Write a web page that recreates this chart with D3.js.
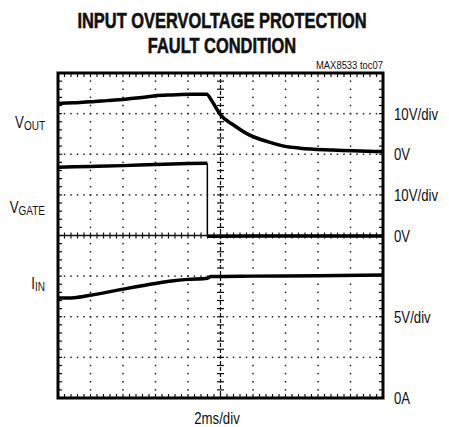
<!DOCTYPE html>
<html>
<head>
<meta charset="utf-8">
<script src="https://cdn.jsdelivr.net/npm/d3@7"></script>
<style>
  html, body { margin: 0; padding: 0; background: #fff; }
  svg { display: block; }
  text { font-family: "Liberation Sans", Arial, Helvetica, sans-serif; fill: #111; }
</style>
</head>
<body>
<script>
// ---- data ----
const titleLines = ["INPUT OVERVOLTAGE PROTECTION", "FAULT CONDITION"];
const noteText = "MAX8533 toc07";
const xLabel = "2ms/div";
const timeDomain = [0, 20]; // ms, 2ms/div, 10 divisions

// V_OUT (10V/div, 0V at division 6)
const voutTime = [0, 1, 2, 3, 4, 5, 6, 7, 8.1, 9.15, 9.5, 10, 10.8, 11.8, 12.9, 13.9, 14.9, 16.9, 20];
const voutVal  = [12.5, 12.7, 12.9, 13.2, 13.5, 13.9, 14.4, 14.6, 14.75, 14.8, 12.9, 9.7, 7.2, 4.7, 3.1, 2.0, 1.5, 1.05, 0.65];

// V_GATE (10V/div, 0V at division 4)
const gateHighTime = [0, 2, 4, 6, 8, 9.19];
const gateHighVal  = [16.8, 17.0, 17.2, 17.5, 17.7, 17.8];
const gateLowTime  = [9.19, 12, 16, 20];
const gateLowVal   = [-0.2, -0.15, -0.1, -0.1];

// I_IN (5/div, 0A at division 0)
const iinTime = [0, 1, 2, 4, 6, 7, 8, 9.2, 9.4, 12, 16, 20];
const iinVal  = [12.3, 12.35, 12.65, 13.4, 14.1, 14.4, 14.6, 14.75, 14.95, 15.0, 15.05, 15.15];

const leftMain = ["V", "V", "I"];
const leftSub = ["OUT", "GATE", "IN"];
const rightText = ["10V/div", "0V", "10V/div", "0V", "5V/div", "0A"];
const rightDiv = [7, 6, 5, 4, 2, 0];

// ---- layout ----
const W = 449, H = 427;
const L = 58, R = 383, T = 73, B = 398;
const nX = 10, nY = 8, minor = 5;
const narrow = 0.8;

const svg = d3.select("body").append("svg").attr("width", W).attr("height", H);

const x = d3.scaleLinear().domain(timeDomain).range([L, R]);
const yDiv = d3.scaleLinear().domain([0, nY]).range([B, T]);
const yVout = d3.scaleLinear().domain([-60, 20]).range([B, T]);
const yGate = d3.scaleLinear().domain([-40, 40]).range([B, T]);
const yIin = d3.scaleLinear().domain([0, 40]).range([B, T]);

const xMinorStep = (timeDomain[1] - timeDomain[0]) / nX / minor;
const xMinor = d3.range(0, nX * minor + 1).map(i => timeDomain[0] + i * xMinorStep);
const yMinor = d3.range(0, nY * minor + 1).map(i => i / minor);
const xMajor = d3.range(1, nX).map(i => timeDomain[0] + i * 2);
const yMajor = d3.range(1, nY);

const g = svg.append("g");

// dotted grid
const dots = g.append("g").attr("fill", "#222");
yMajor.forEach(d => {
  if (d === nY / 2) return;
  xMinor.forEach(t => {
    dots.append("rect").attr("x", x(t) - 0.75).attr("y", yDiv(d) - 0.75).attr("width", 1.5).attr("height", 1.5);
  });
});
xMajor.forEach(t => {
  if (t === 10) return;
  yMinor.forEach(d => {
    dots.append("rect").attr("x", x(t) - 0.75).attr("y", yDiv(d) - 0.75).attr("width", 1.5).attr("height", 1.5);
  });
});

// center axes with ticks
const cx = x(10), cy = yDiv(nY / 2);
g.append("line").attr("x1", cx).attr("x2", cx).attr("y1", T).attr("y2", B)
  .attr("stroke", "#111").attr("stroke-width", 1.2).attr("stroke-dasharray", "4,2");
g.append("line").attr("x1", L).attr("x2", R).attr("y1", cy).attr("y2", cy)
  .attr("stroke", "#111").attr("stroke-width", 1.5);
yMinor.forEach(d => {
  g.append("line").attr("x1", cx - 3.5).attr("x2", cx + 3.5).attr("y1", yDiv(d)).attr("y2", yDiv(d))
    .attr("stroke", "#111").attr("stroke-width", 1.2);
});
xMinor.forEach(t => {
  g.append("line").attr("x1", x(t)).attr("x2", x(t)).attr("y1", cy - 3).attr("y2", cy + 3)
    .attr("stroke", "#111").attr("stroke-width", 1.2);
  g.append("line").attr("x1", x(t)).attr("x2", x(t)).attr("y1", B).attr("y2", B - 4)
    .attr("stroke", "#111").attr("stroke-width", 1.2);
  g.append("line").attr("x1", x(t)).attr("x2", x(t)).attr("y1", T).attr("y2", T + 4)
    .attr("stroke", "#111").attr("stroke-width", 1.2);
});
yMinor.forEach(d => {
  g.append("line").attr("x1", L).attr("x2", L + 4).attr("y1", yDiv(d)).attr("y2", yDiv(d))
    .attr("stroke", "#111").attr("stroke-width", 1.2);
  g.append("line").attr("x1", R).attr("x2", R - 4).attr("y1", yDiv(d)).attr("y2", yDiv(d))
    .attr("stroke", "#111").attr("stroke-width", 1.2);
});

// traces
const traceStroke = 3.5;
function trace(times, vals, yS, width, curve) {
  const data = times.map((t, i) => [t, vals[i]]);
  g.append("path").datum(data)
    .attr("fill", "none").attr("stroke", "#000").attr("stroke-width", width)
    .attr("stroke-linejoin", "round")
    .attr("d", d3.line().x(d => x(d[0])).y(d => yS(d[1])).curve(curve || d3.curveMonotoneX));
}
trace(voutTime, voutVal, yVout, traceStroke);
trace(gateHighTime, gateHighVal, yGate, traceStroke);
trace(gateLowTime, gateLowVal, yGate, traceStroke);
trace([gateHighTime[gateHighTime.length - 1], gateLowTime[0]],
      [gateHighVal[gateHighVal.length - 1], gateLowVal[0]], yGate, 1.5, d3.curveLinear);
trace(iinTime, iinVal, yIin, traceStroke);

// frame
g.append("rect").attr("x", L).attr("y", T).attr("width", R - L).attr("height", B - T)
  .attr("fill", "none").attr("stroke", "#000").attr("stroke-width", 3);

// narrow text helper
function ntext(px, py, anchor, size, sx) {
  return svg.append("g").attr("transform", `translate(${px},${py}) scale(${sx || narrow},1)`)
    .append("text").attr("text-anchor", anchor).attr("font-size", size);
}

// title
ntext(222, 28, "middle", 22.5, 0.73).attr("font-weight", "bold")
  .attr("stroke", "#111").attr("stroke-width", 0.6).text(titleLines[0]);
ntext(222, 53, "middle", 22.5, 0.73).attr("font-weight", "bold")
  .attr("stroke", "#111").attr("stroke-width", 0.6).text(titleLines[1]);
ntext(R, 69, "end", 11.5, 0.82).text(noteText);

// right labels
rightText.forEach((s, i) => {
  ntext(394, yDiv(rightDiv[i]) + 6, "start", 16.5).text(s);
});

// left labels
const leftBase = [128, 213, 289];
leftMain.forEach((m, i) => {
  const t = ntext(45, leftBase[i], "end", 16.5);
  t.append("tspan").text(m);
  t.append("tspan").attr("font-size", 12.5).attr("dy", 1.5).text(leftSub[i]);
});

// x label
ntext(217, 424, "middle", 16.5).text(xLabel);
</script>
</body>
</html>
